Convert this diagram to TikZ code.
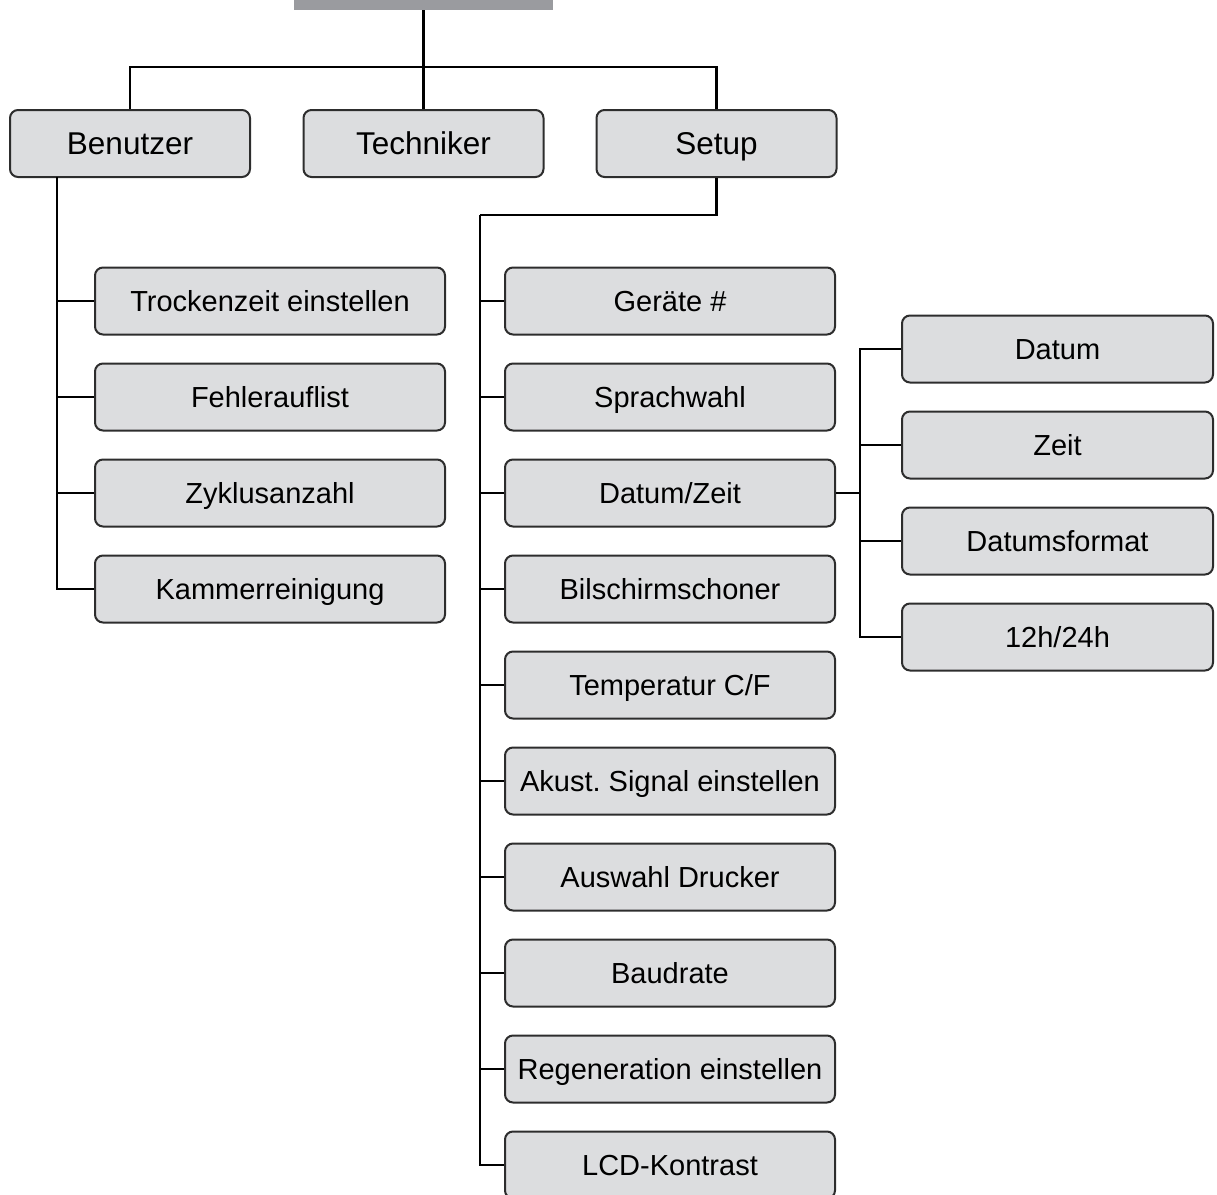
\documentclass[tikz,border=0pt]{standalone}
\usepackage{fontspec}
\setmainfont{Liberation Sans}
\frenchspacing
\definecolor{boxgray}{RGB}{220,221,223}
\definecolor{bargray}{RGB}{154,155,159}
\definecolor{edgegray}{RGB}{45,45,45}
\tikzset{
    bar/.style =    {rectangle,
                    fill=bargray,
                    draw=none,
                    minimum width=129.5pt,
                    minimum height=30pt},
    menu/.style =   {rectangle,
                    rounded corners=4pt,
                    fill=boxgray,
                    draw=edgegray,
                    text=black,
                    line width=1pt,
                    minimum width=120pt,
                    minimum height=33.5pt,
                    text height=14pt,
                    text depth=2.72pt,
                    font=\fontsize{15.75}{18}\selectfont},
    item/.style =   {menu,
                    minimum width=175pt,
                    text height=12.95pt,
                    text depth=2.57pt,
                    font=\fontsize{14.5}{16.5}\selectfont},
    sitem/.style =  {item,
                    minimum width=165pt},
    ditem/.style =  {item,
                    minimum width=155.5pt},
    link/.style =   {draw=black,
                    line width=1.2pt}}
\begin{document}
\begin{tikzpicture}[x=0.5pt,y=-0.5pt]
                \useasboundingbox (0,0) rectangle (1217,1195);
                % top level
                \node[bar]          (root) at (423.5,-20)   {};
                \node[menu]         (ben)  at (130,143.5)   {Benutzer};
                \node[menu]         (tech) at (423.5,143.5) {Techniker};
                \node[menu]         (setup) at (716.5,143.5) {Setup};
                \coordinate         (top)  at (423.5,67);
                \path [link]    (root) -- (tech)
                                (ben.north) |- (top) -| (setup.north);
                % Benutzer
                \node[item]         (tz)   at (270,301)     {Trockenzeit einstellen};
                \node[item]         (fl)   at (270,397)     {Fehlerauflist};
                \node[item]         (za)   at (270,493)     {Zyklusanzahl};
                \node[item]         (kr)   at (270,589)     {Kammerreinigung};
                \coordinate         (bj)   at (57,177);
                \path [link]    (bj) |- (tz.west)
                                (bj) |- (fl.west)
                                (bj) |- (za.west)
                                (bj) |- (kr.west);
                % Setup
                \node[sitem]        (gn)   at (670,301)     {Geräte \#};
                \node[sitem]        (sw)   at (670,397)     {Sprachwahl};
                \node[sitem]        (dz)   at (670,493)     {Datum/Zeit};
                \node[sitem]        (bs)   at (670,589)     {Bilschirmschoner};
                \node[sitem]        (tc)   at (670,685)     {Temperatur C/F};
                \node[sitem]        (as)   at (670,781)     {Akust. Signal einstellen};
                \node[sitem]        (ad)   at (670,877)     {Auswahl Drucker};
                \node[sitem]        (br)   at (670,973)     {Baudrate};
                \node[sitem]        (re)   at (670,1069)    {Regeneration einstellen};
                \node[sitem]        (lcd)  at (670,1165)    {LCD-Kontrast};
                \coordinate         (sj)   at (480,215);
                \path [link]    (setup.south) |- (sj)
                                (sj) |- (gn.west)
                                (sj) |- (sw.west)
                                (sj) |- (dz.west)
                                (sj) |- (bs.west)
                                (sj) |- (tc.west)
                                (sj) |- (as.west)
                                (sj) |- (ad.west)
                                (sj) |- (br.west)
                                (sj) |- (re.west)
                                (sj) |- (lcd.west);
                % Datum/Zeit
                \node[ditem]        (dat)  at (1057.5,349)  {Datum};
                \node[ditem]        (zeit) at (1057.5,445)  {Zeit};
                \node[ditem]        (fmt)  at (1057.5,541)  {Datumsformat};
                \node[ditem]        (hh)   at (1057.5,637)  {12h/24h};
                \coordinate         (dj)   at (860,493);
                \path [link]    (dz.east) -- (dj)
                                (dj) |- (dat.west)
                                (dj) |- (zeit.west)
                                (dj) |- (fmt.west)
                                (dj) |- (hh.west);
        \end{tikzpicture}
\end{document}
